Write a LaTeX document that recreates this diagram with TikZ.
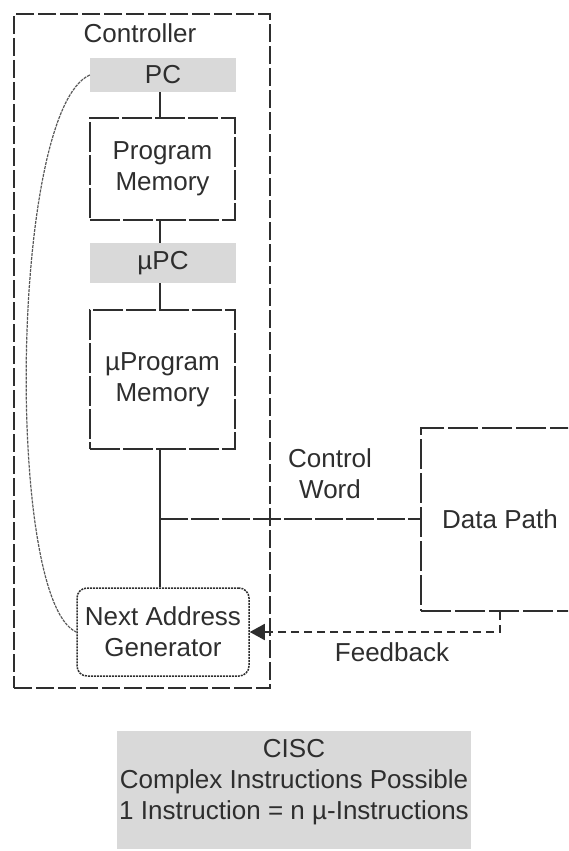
\documentclass[tikz,border=0pt]{standalone}
\usepackage{fontspec}
\setmainfont{Liberation Sans}
\usetikzlibrary{arrows.meta}
\definecolor{boxgray}{HTML}{D9D9D9}
\definecolor{ink}{HTML}{2E2E2E}
\tikzset{
  base/.style={font=\fontsize{26}{31}\selectfont, text=ink, align=center, inner sep=0pt},
  outerbox/.style={draw=ink, line width=2pt, dash pattern=on 18pt off 4pt, minimum width=256pt, minimum height=674pt},
  regbox/.style={fill=boxgray, minimum width=146pt, base},
  membox/.style={draw=ink, line width=1.8pt, dash pattern=on 30pt off 3pt, minimum width=145pt, base},
  nagbox/.style={draw=ink, line width=1.5pt, dash pattern=on 2pt off 1pt, rounded corners=10pt, minimum width=172pt, minimum height=88pt, base},
  wire/.style={draw=ink, line width=2pt},
  cwire/.style={draw=ink, line width=2pt, dash pattern=on 28pt off 3pt},
  fbwire/.style={draw=ink, line width=1.8pt, dash pattern=on 8pt off 5pt},
  loopwire/.style={draw=ink!80, line width=1.2pt, dash pattern=on 3pt off 1pt},
  plain/.style={base}
}
\begin{document}
\begin{tikzpicture}[x=1pt,y=-1pt]
\useasboundingbox (0,0) rectangle (568,851);
\clip (0,0) rectangle (568,851);
\node[outerbox] (ctrl) at (142,351) {};
\node[plain] (ctrllabel) at (140,33) {Controller};
\node[regbox, minimum height=34pt] (pc) at (163,75) {PC};
\node[membox, minimum height=102pt] (pm) at (162.5,169) {Program\\Memory};
\node[regbox, minimum height=40pt] (upc) at (163,263) {µPC};
\node[membox, minimum height=139pt] (upm) at (162.5,379.5) {µProgram\\Memory};
\node[nagbox] (nag) at (163,632) {Next Address\\Generator};
\node[draw=ink, line width=2pt, dash pattern=on 30pt off 4pt, minimum width=158pt, minimum height=183pt, base] (dp) at (500,519.5) {Data Path};
\coordinate (j) at (160,519);
\node[plain] (cw) at (330,474) {Control\\Word};
\node[plain] (fb) at (392,652) {Feedback};
% connectors
\draw[wire] (pc.south -| j) -- (pm.north -| j);
\draw[wire] (pm.south -| j) -- (upc.north -| j);
\draw[wire] (upc.south -| j) -- (upm.north -| j);
\draw[wire] (upm.south -| j) -- (nag.north -| j);
\draw[cwire] (j) -- (dp.west |- j);
\draw[fbwire, -{Triangle[length=15pt, width=16pt]}] (dp.south) |- (nag.east);
\draw[loopwire] (pc.west) .. controls (10,110) and (5,600) .. (nag.west);
% CISC box
\node[fill=boxgray, minimum width=354pt, minimum height=118pt, inner sep=0pt] (cisc) at (294,790) {};
\node[plain] (cisctext) at (294,782) {CISC\\Complex Instructions Possible\\1 Instruction = n µ-Instructions};
\end{tikzpicture}
\end{document}
